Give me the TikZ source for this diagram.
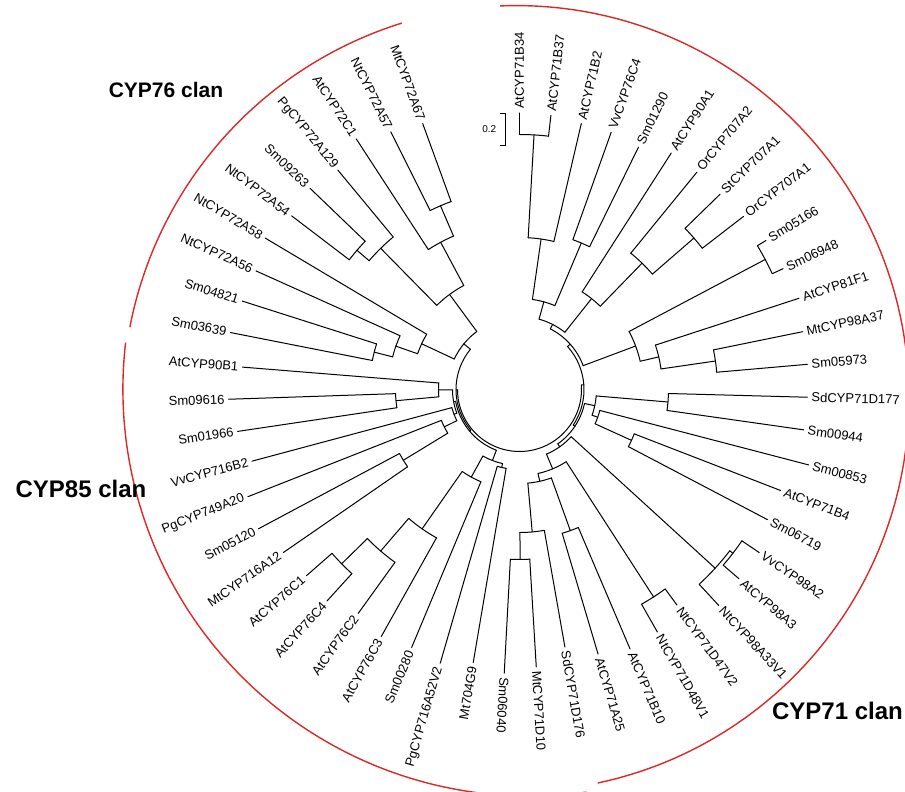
\documentclass[tikz,border=0pt]{standalone}
\usepackage{fontspec}
\setmainfont{Liberation Sans}
\newcommand{\Conn}[3]{\draw[br] (#1:#3pt) arc[start angle=#1, end angle=#2, radius=#3pt];}
\newcommand{\Stem}[3]{\draw[br] (#1:#2pt) -- (#1:#3pt);}
\newcommand{\Leaf}[5]{%
  \draw[br] (#2:#3pt) -- (#2:#4pt);
  \pgfmathsetmacro{\lr}{#4+4}%
  \ifdim #2pt>-96pt
    \node[lbl, anchor=west, rotate=#2] (l#1) at (#2:\lr pt) {#5};
  \else
    \pgfmathsetmacro{\rt}{#2+180}%
    \node[lbl, anchor=east, rotate=\rt] (l#1) at (#2:\lr pt) {#5};
  \fi}
\begin{document}
\begin{tikzpicture}[x=1pt,y=1pt,
  br/.style={line width=1.0pt, black, line cap=round},
  lbl/.style={font=\fontsize{13}{15}\selectfont, inner sep=0pt},
  clan/.style={font=\bfseries\fontsize{24}{28}\selectfont, inner sep=0pt},
  redarc/.style={line width=1.4pt, draw={rgb,255:red,220;green,40;blue,40}}]
\useasboundingbox (-519.5,-402.5) rectangle (385.5,389.5);
% leaves
\Leaf{1}{90}{255}{276.5}{AtCYP71B34}
\Leaf{2}{83.46}{255}{276}{AtCYP71B37}
\Leaf{3}{76.92}{152}{273}{AtCYP71B2}
\Leaf{4}{70.38}{159}{273}{VvCYP76C4}
\Leaf{5}{63.85}{159}{270}{Sm01290}
\Leaf{6}{57.31}{116}{281}{AtCYP90A1}
\Leaf{7}{50.77}{176}{280.6}{OrCYP707A2}
\Leaf{8}{44.23}{231}{280}{StCYP707A1}
\Leaf{9}{37.69}{231}{283}{OrCYP707A1}
\Leaf{10}{31.15}{278}{288}{Sm05166}
\Leaf{11}{24.62}{278}{290}{Sm06948}
\Leaf{12}{18.08}{143}{294}{AtCYP81F1}
\Leaf{13}{11.54}{198}{289}{MtCYP98A37}
\Leaf{14}{5.0}{198}{289}{Sm05973}
\Leaf{15}{-1.54}{149}{288}{SdCYP71D177}
\Leaf{16}{-8.08}{149}{287}{Sm00944}
\Leaf{17}{-14.62}{83}{299}{Sm00853}
\Leaf{18}{-21.15}{123}{280}{AtCYP71B4}
\Leaf{19}{-27.69}{123}{280}{Sm06719}
\Leaf{20}{-34.23}{269}{290}{VvCYP98A2}
\Leaf{21}{-40.77}{269}{290}{AtCYP98A3}
\Leaf{22}{-47.31}{265}{294}{NtCYP98A33V1}
\Leaf{23}{-53.85}{247}{267}{NtCYP71D47V2}
\Leaf{24}{-60.38}{247}{279}{NtCYP71D48V1}
\Leaf{25}{-66.92}{150}{282}{AtCYP71B10}
\Leaf{26}{-73.46}{150}{276}{AtCYP71A25}
\Leaf{27}{-80}{143}{261.5}{SdCYP71D176}
\Leaf{28}{-86.54}{170}{278}{MtCYP71D10}
\Leaf{29}{-93.08}{170}{284}{Sm06040}
\Leaf{30}{-99.62}{80}{277}{Mt704G9}
\Leaf{31}{-106.15}{80}{285}{PgCYP716A52V2}
\Leaf{32}{-112.69}{100}{279.6}{Sm00280}
\Leaf{33}{-119.23}{170}{283}{AtCYP76C3}
\Leaf{34}{-125.77}{213}{276}{AtCYP76C2}
\Leaf{35}{-132.31}{249}{286}{AtCYP76C4}
\Leaf{36}{-138.85}{249}{283}{AtCYP76C1}
\Leaf{37}{-145.38}{136}{287}{MtCYP716A12}
\Leaf{38}{-151.92}{136}{296}{Sm05120}
\Leaf{39}{-158.46}{84}{292}{PgCYP749A20}
\Leaf{40}{-165}{70}{277}{VvCYP716B2}
\Leaf{41}{-171.54}{124}{285}{Sm01966}
\Leaf{42}{-178.08}{124}{291}{Sm09616}
\Leaf{43}{-184.62}{81}{278}{AtCYP90B1}
\Leaf{44}{-191.15}{150}{294.6}{Sm03639}
\Leaf{45}{-197.69}{150}{291}{Sm04821}
\Leaf{46}{-204.23}{131}{289}{NtCYP72A56}
\Leaf{47}{-210.77}{108}{296}{NtCYP72A58}
\Leaf{48}{-217.31}{214}{286.5}{NtCYP72A54}
\Leaf{49}{-223.85}{214}{290.7}{Sm09263}
\Leaf{50}{-230.38}{198}{285}{PgCYP72A129}
\Leaf{51}{-236.92}{167}{299}{AtCYP72C1}
\Leaf{52}{-243.46}{200}{288}{NtCYP72A57}
\Leaf{53}{-250}{200}{283}{MtCYP72A67}
% internal nodes
\Conn{90}{83.46}{255} \Stem{86.73}{152}{255}
\Conn{86.73}{76.92}{152} \Stem{81.83}{91}{152}
\Conn{70.38}{63.85}{159} \Stem{67.12}{91}{159}
\Conn{81.83}{67.12}{91} \Stem{74.47}{73}{91}
\Conn{44.23}{37.69}{231} \Stem{40.96}{176}{231}
\Conn{50.77}{40.96}{176} \Stem{45.87}{116}{176}
\Conn{57.31}{45.87}{116} \Stem{51.59}{73}{116}
\Conn{74.47}{51.59}{73} \Stem{63.03}{68}{73}
\Conn{31.15}{24.62}{278} \Stem{27.89}{124}{278}
\Conn{11.54}{5.0}{198} \Stem{8.27}{143}{198}
\Conn{18.08}{8.27}{143} \Stem{13.17}{124}{143}
\Conn{27.89}{13.17}{124} \Stem{20.53}{68}{124}
\Conn{63.03}{20.53}{68} \Stem{41.78}{64.5}{68}
\Conn{-1.54}{-8.08}{149} \Stem{-4.81}{77}{149}
\Conn{-21.15}{-27.69}{123} \Stem{-24.42}{83}{123}
\Conn{-14.62}{-24.42}{83} \Stem{-19.52}{77}{83}
\Conn{-4.81}{-19.52}{77} \Stem{-12.17}{66.5}{77}
\Conn{-34.23}{-40.77}{269} \Stem{-37.5}{265}{269}
\Conn{-37.5}{-47.31}{265} \Stem{-42.4}{70}{265}
\Conn{-53.85}{-60.38}{247} \Stem{-57.12}{86}{247}
\Conn{-66.92}{-73.46}{150} \Stem{-70.19}{94}{150}
\Conn{-86.54}{-93.08}{170} \Stem{-89.81}{143}{170}
\Conn{-80}{-89.81}{143} \Stem{-84.9}{94}{143}
\Conn{-70.19}{-84.9}{94} \Stem{-77.55}{86}{94}
\Conn{-57.12}{-77.55}{86} \Stem{-67.33}{70}{86}
\Conn{-42.4}{-67.33}{70} \Stem{-54.87}{66.5}{70}
\Conn{-12.17}{-54.87}{66.5} \Stem{-33.52}{64.5}{66.5}
\Conn{41.78}{-33.52}{64.5} \Stem{4.13}{62}{64.5}
\Conn{-99.62}{-106.15}{80} \Stem{-102.88}{76}{80}
\Conn{-132.31}{-138.85}{249} \Stem{-135.58}{213}{249}
\Conn{-125.77}{-135.58}{213} \Stem{-130.68}{170}{213}
\Conn{-119.23}{-130.68}{170} \Stem{-124.95}{100}{170}
\Conn{-112.69}{-124.95}{100} \Stem{-118.82}{76}{100}
\Conn{-102.88}{-118.82}{76} \Stem{-110.85}{65}{76}
\Conn{-145.38}{-151.92}{136} \Stem{-148.65}{84}{136}
\Conn{-148.65}{-158.46}{84} \Stem{-153.56}{70}{84}
\Conn{-153.56}{-165}{70} \Stem{-159.28}{67}{70}
\Conn{-171.54}{-178.08}{124} \Stem{-174.81}{81}{124}
\Conn{-174.81}{-184.62}{81} \Stem{-179.72}{67}{81}
\Conn{-159.28}{-179.72}{67} \Stem{-169.5}{65}{67}
\Conn{-110.85}{-169.5}{65} \Stem{-140.17}{63.5}{65}
\Conn{-191.15}{-197.69}{150} \Stem{-194.42}{131}{150}
\Conn{-194.42}{-204.23}{131} \Stem{-199.33}{108}{131}
\Conn{-199.33}{-210.77}{108} \Stem{-205.05}{72}{108}
\Conn{-217.31}{-223.85}{214} \Stem{-220.58}{198}{214}
\Conn{-220.58}{-230.38}{198} \Stem{-225.48}{118}{198}
\Conn{-243.46}{-250}{200} \Stem{-246.73}{167}{200}
\Conn{-236.92}{-246.73}{167} \Stem{-241.83}{118}{167}
\Conn{-225.48}{-241.83}{118} \Stem{-233.65}{72}{118}
\Conn{-205.05}{-233.65}{72} \Stem{-219.35}{63.5}{72}
\Conn{-140.17}{-219.35}{63.5} \Stem{-179.76}{62}{63.5}
\Conn{4.13}{-179.76}{62}
% scale bar
\coordinate (sbt) at (-14.5,276.5);
\coordinate (sbb) at (-14.5,244.5);
\draw[line width=0.9pt] ([xshift=-5pt]sbt) -- (sbt) -- (sbb) -- ([xshift=-5pt]sbb);
\node[font=\fontsize{10}{12}\selectfont, inner sep=0pt, anchor=east] (sbl) at (-23,260.5) {0.2};
% clan arcs
\draw[redarc] ([shift={(169.1:397.3pt)}]0.5,-12.9) arc[start angle=169.1, end angle=107.3, radius=397.3pt];
\draw[redarc] ([shift={(173.4:406.8pt)}]10.2,0.2) arc[start angle=173.4, end angle=278, radius=406.8pt];
\draw[redarc] ([shift={(92.3:393pt)}]-3.5,-9.1) arc[start angle=92.3, end angle=-78, radius=393pt];
% clan labels
\node[clan, font=\bfseries\fontsize{21}{25}\selectfont] (c76) at (-353.5,299.5) {CYP76 clan};
\node[clan] (c85) at (-438.5,-99.5) {CYP85 clan};
\node[clan] (c71) at (318,-321.5) {CYP71 clan};
\end{tikzpicture}
\end{document}
